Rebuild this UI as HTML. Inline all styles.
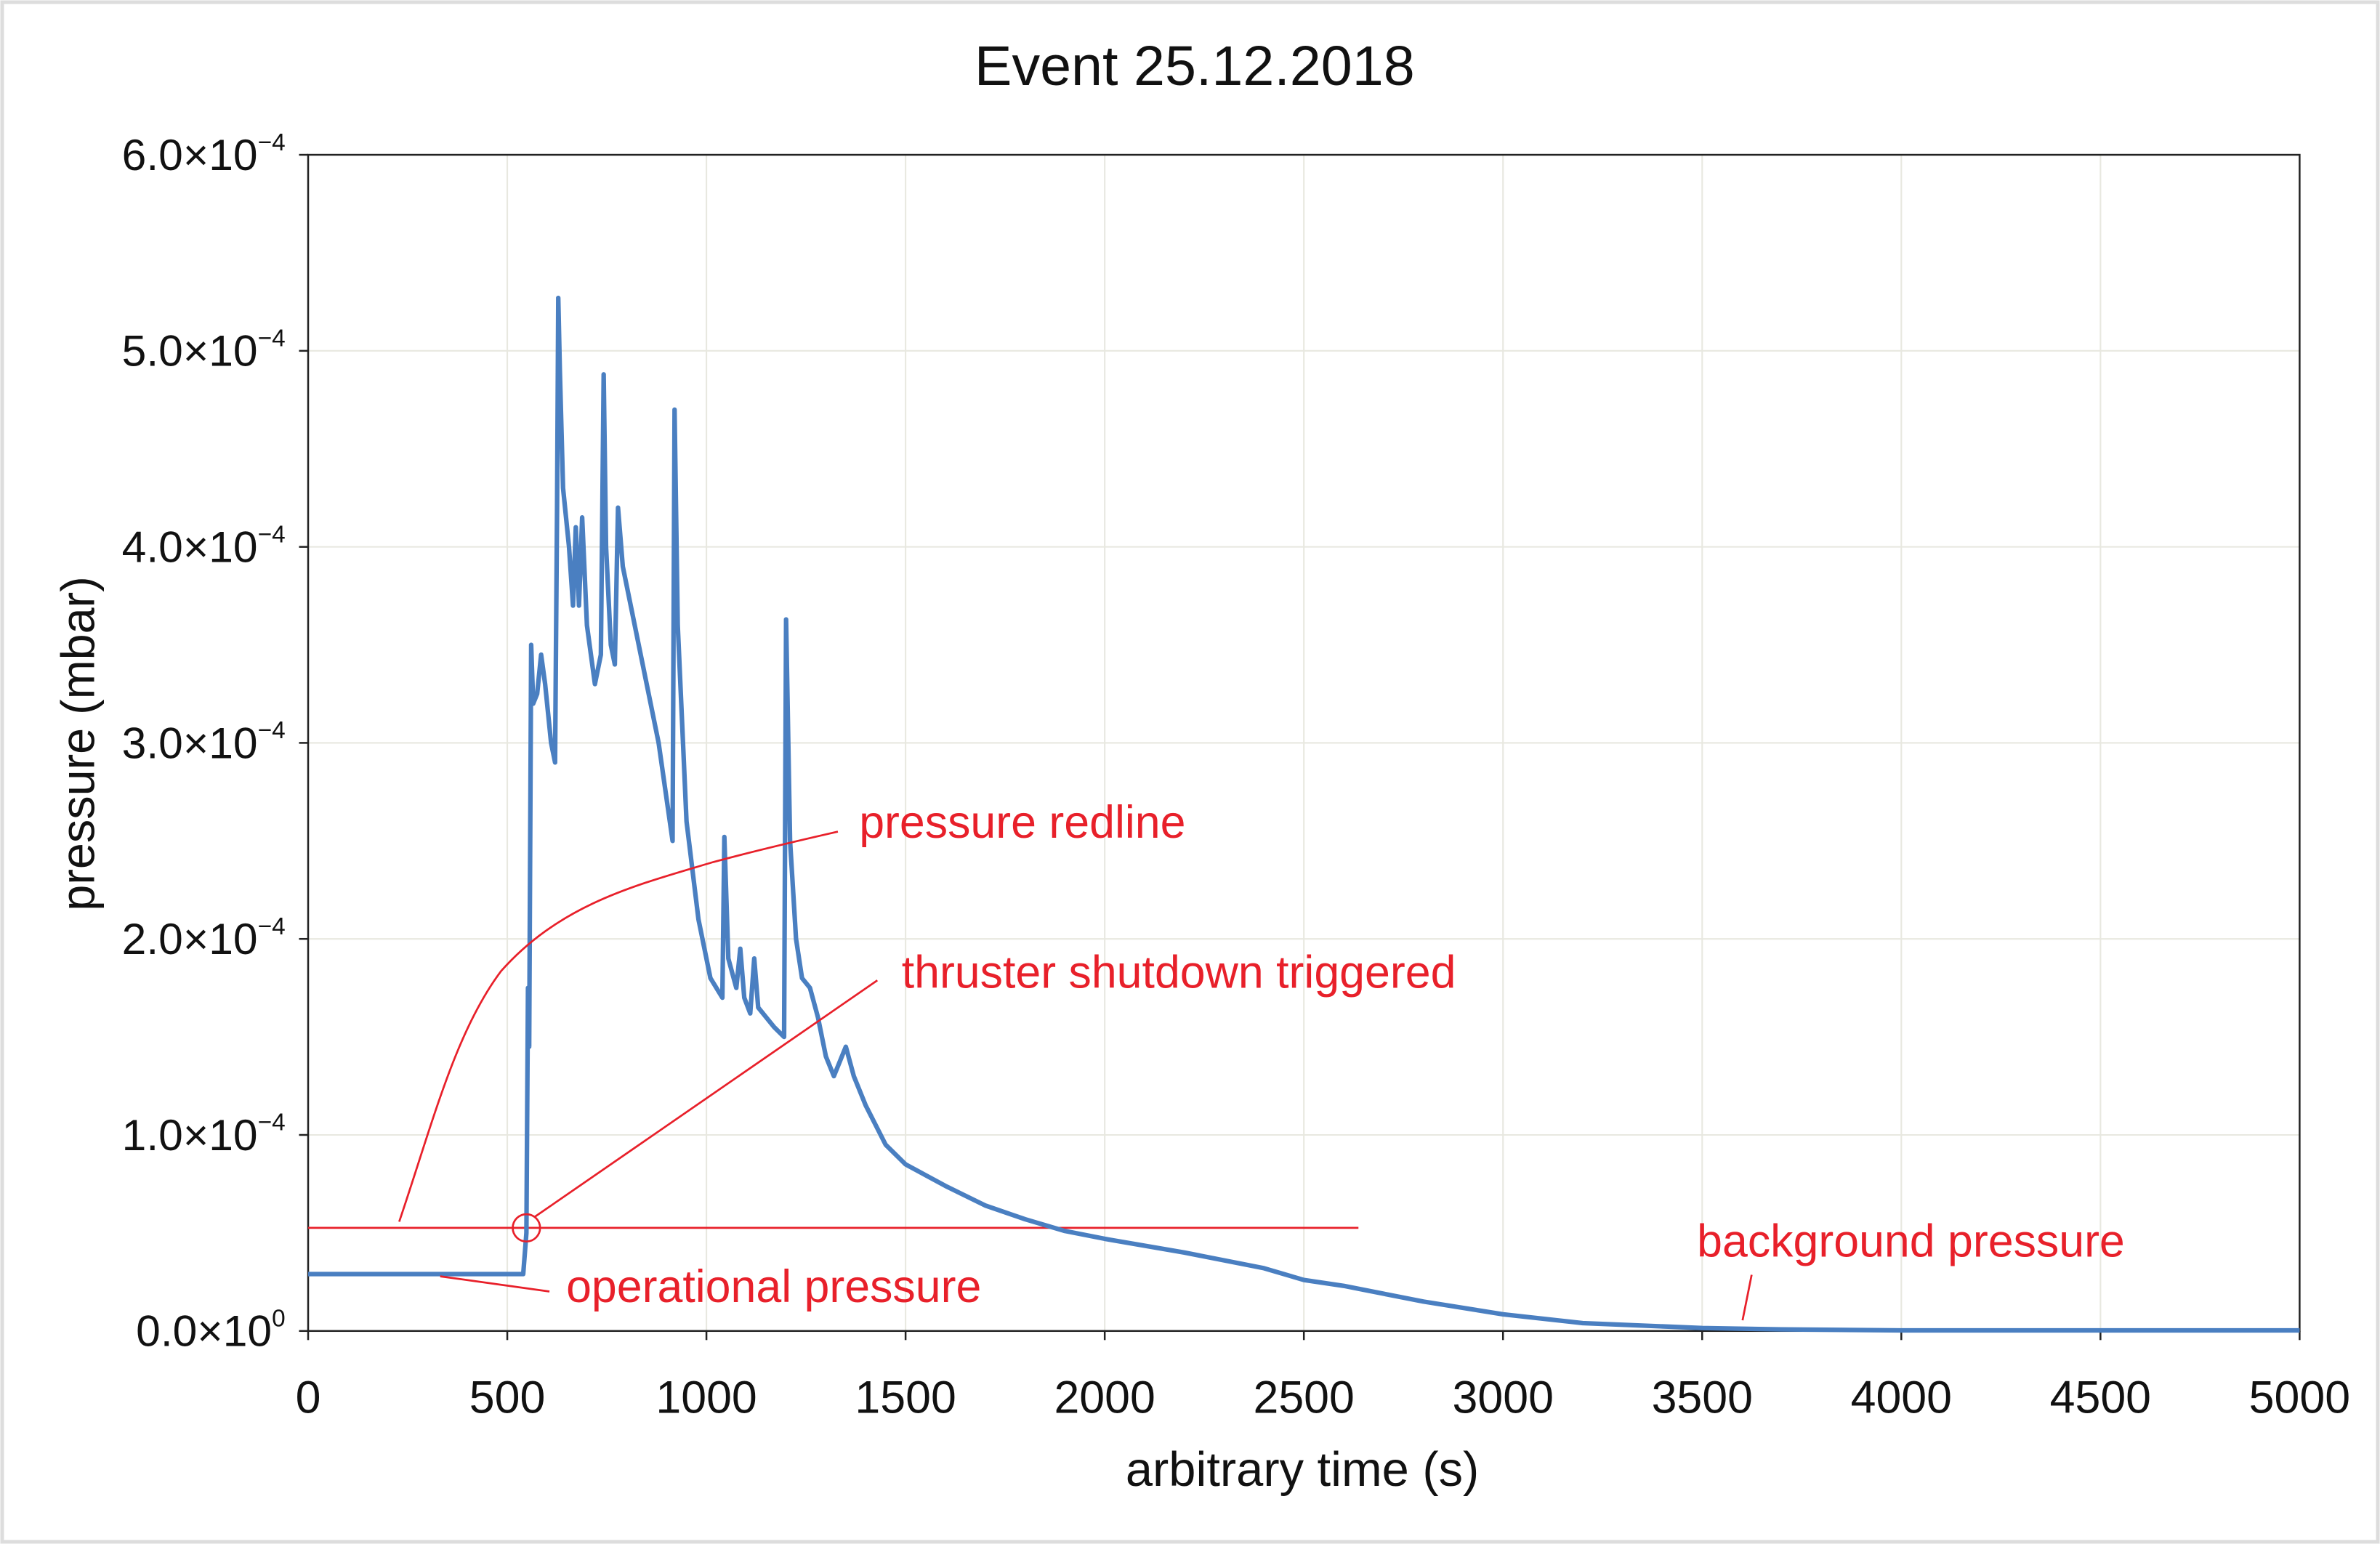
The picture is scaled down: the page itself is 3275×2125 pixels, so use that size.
<!DOCTYPE html>
<html><head><meta charset="utf-8"><style>
html,body{margin:0;padding:0;background:#fff;}
svg{display:block;font-family:"Liberation Sans",sans-serif;}
</style></head><body>
<svg id="chart" width="3275" height="2125" viewBox="0 0 3275 2125" xmlns="http://www.w3.org/2000/svg">
<rect x="0" y="0" width="3275" height="2125" fill="#fff"/>
<rect x="3" y="3" width="3269" height="2119" fill="none" stroke="#ddd" stroke-width="5"/>
<g id="g" transform="scale(2.0887)"></g>
</svg>
<script>
const xTicks=[0,500,1000,1500,2000,2500,3000,3500,4000,4500,5000];
const yTicks=[0,1,2,3,4,5,6];
const yTickExp=[0,-4,-4,-4,-4,-4,-4];
const times=[0,540,548,552,555,560,565,575,585,595,610,620,625,628,632,640,655,665,672,680,688,700,720,735,742,748,760,770,778,790,830,880,915,920,928,950,980,1010,1040,1045,1055,1075,1085,1095,1110,1120,1130,1170,1195,1200,1210,1225,1240,1260,1280,1300,1320,1340,1350,1370,1400,1450,1500,1600,1700,1800,1900,2000,2200,2400,2500,2600,2800,3000,3200,3500,3700,4000,5000];
const pressure=[0.29,0.29,0.5,1.75,1.45,3.5,3.2,3.25,3.45,3.3,3.0,2.9,4.2,5.27,4.9,4.3,4.0,3.7,4.1,3.7,4.15,3.6,3.3,3.45,4.88,4.0,3.5,3.4,4.2,3.9,3.5,3.0,2.5,4.7,3.6,2.6,2.1,1.8,1.7,2.52,1.9,1.75,1.95,1.7,1.62,1.9,1.65,1.55,1.5,3.63,2.5,2.0,1.8,1.75,1.6,1.4,1.3,1.4,1.45,1.3,1.15,0.95,0.85,0.74,0.64,0.57,0.51,0.47,0.4,0.32,0.26,0.23,0.15,0.085,0.04,0.015,0.008,0.003,0.003];
const redlineValue=[0.526];
const redlineEnd=[2637];
const NS="http://www.w3.org/2000/svg";
const g=document.getElementById('g');
const X0=203,X1=1515,Y0=877,Y1=102;
function sx(t){return X0+t/5000*(X1-X0);}
function sy(p){return Y0-p/6*(Y0-Y1);}
function mk(tag,attrs,parent){const e=document.createElementNS(NS,tag);for(const k in attrs)e.setAttribute(k,attrs[k]);(parent||g).appendChild(e);return e;}
xTicks.forEach(t=>{if(t>0&&t<5000){const l=mk('line',{x1:sx(t),x2:sx(t),y1:Y1,y2:Y0,stroke:'#e8e8e0','stroke-width':1});

}});
yTicks.forEach(p=>{if(p>0&&p<6){const l=mk('line',{x1:X0,x2:X1,y1:sy(p),y2:sy(p),stroke:'#e8e8e0','stroke-width':1});

}});
const fr=mk('rect',{x:X0,y:Y1,width:X1-X0,height:Y0-Y1,fill:'none',stroke:'#222','stroke-width':1.2});


xTicks.forEach(t=>{
 mk('line',{x1:sx(t),x2:sx(t),y1:Y0,y2:Y0+6,stroke:'#222','stroke-width':1.2});
 const tx=mk('text',{x:sx(t),y:931,'text-anchor':'middle','font-size':30,fill:'#111'});
 tx.textContent=t;
 
 
});
yTicks.forEach((p,i)=>{
 mk('line',{x1:X0-6,x2:X0,y1:sy(p),y2:sy(p),stroke:'#222','stroke-width':1.2});
 const tx=mk('text',{x:188,y:sy(p)+10,'text-anchor':'end','font-size':29,fill:'#111'});
 tx.textContent=p.toFixed(1)+'\u00d710';
 const ts=mk('tspan',{dy:-13,'font-size':16},tx);
 ts.textContent=yTickExp[i]===0?'0':'\u2212'+Math.abs(yTickExp[i]);
 
 
});
const red='#e8202a';
const rl=mk('line',{x1:sx(0),x2:sx(redlineEnd[0]),y1:sy(redlineValue[0]),y2:sy(redlineValue[0]),stroke:red,'stroke-width':1.3});


const d=times.map((t,i)=>(i?'L':'M')+sx(t).toFixed(2)+','+sy(pressure[i]).toFixed(2)).join(' ');
const s=mk('path',{d:d,fill:'none',stroke:'#4a7fc1','stroke-width':3,'stroke-linejoin':'round'});


const cv=mk('path',{d:'M263,805 C285,740 300,680 330,640 C370,595 420,583 470,568 C500,560 530,553 552,548',fill:'none',stroke:red,'stroke-width':1.3});


const ci=mk('circle',{cx:sx(548),cy:sy(redlineValue[0]),r:9,fill:'none',stroke:red,'stroke-width':1.3});


const l1=mk('line',{x1:352,y1:802,x2:578,y2:646,stroke:red,'stroke-width':1.3});


const l2=mk('line',{x1:290,y1:841,x2:362,y2:851,stroke:red,'stroke-width':1.3});


const l3=mk('line',{x1:1148,y1:870,x2:1154,y2:840,stroke:red,'stroke-width':1.3});


function lab(x,y,t,name,size,anchor,col){const e=mk('text',{x:x,y:y,'font-size':size,fill:col||red,'text-anchor':anchor||'start'});e.textContent=t;

return e;}
lab(566,552,'pressure redline','redline-label',30);
lab(594,651,'thruster shutdown triggered','shutdown-label',30);
lab(373,858,'operational pressure','operational-label',30);
lab(1118,828,'background pressure','background-label',30);
lab(787,56,'Event 25.12.2018','chart-title',37,'middle','#111');
lab(858,979,'arbitrary time (s)','x-axis-title',32,'middle','#111');
const yl=lab(0,0,'pressure (mbar)','y-axis-title',31,'middle','#111');
yl.setAttribute('transform','translate(62,490) rotate(-90)');
</script>
</body></html>
